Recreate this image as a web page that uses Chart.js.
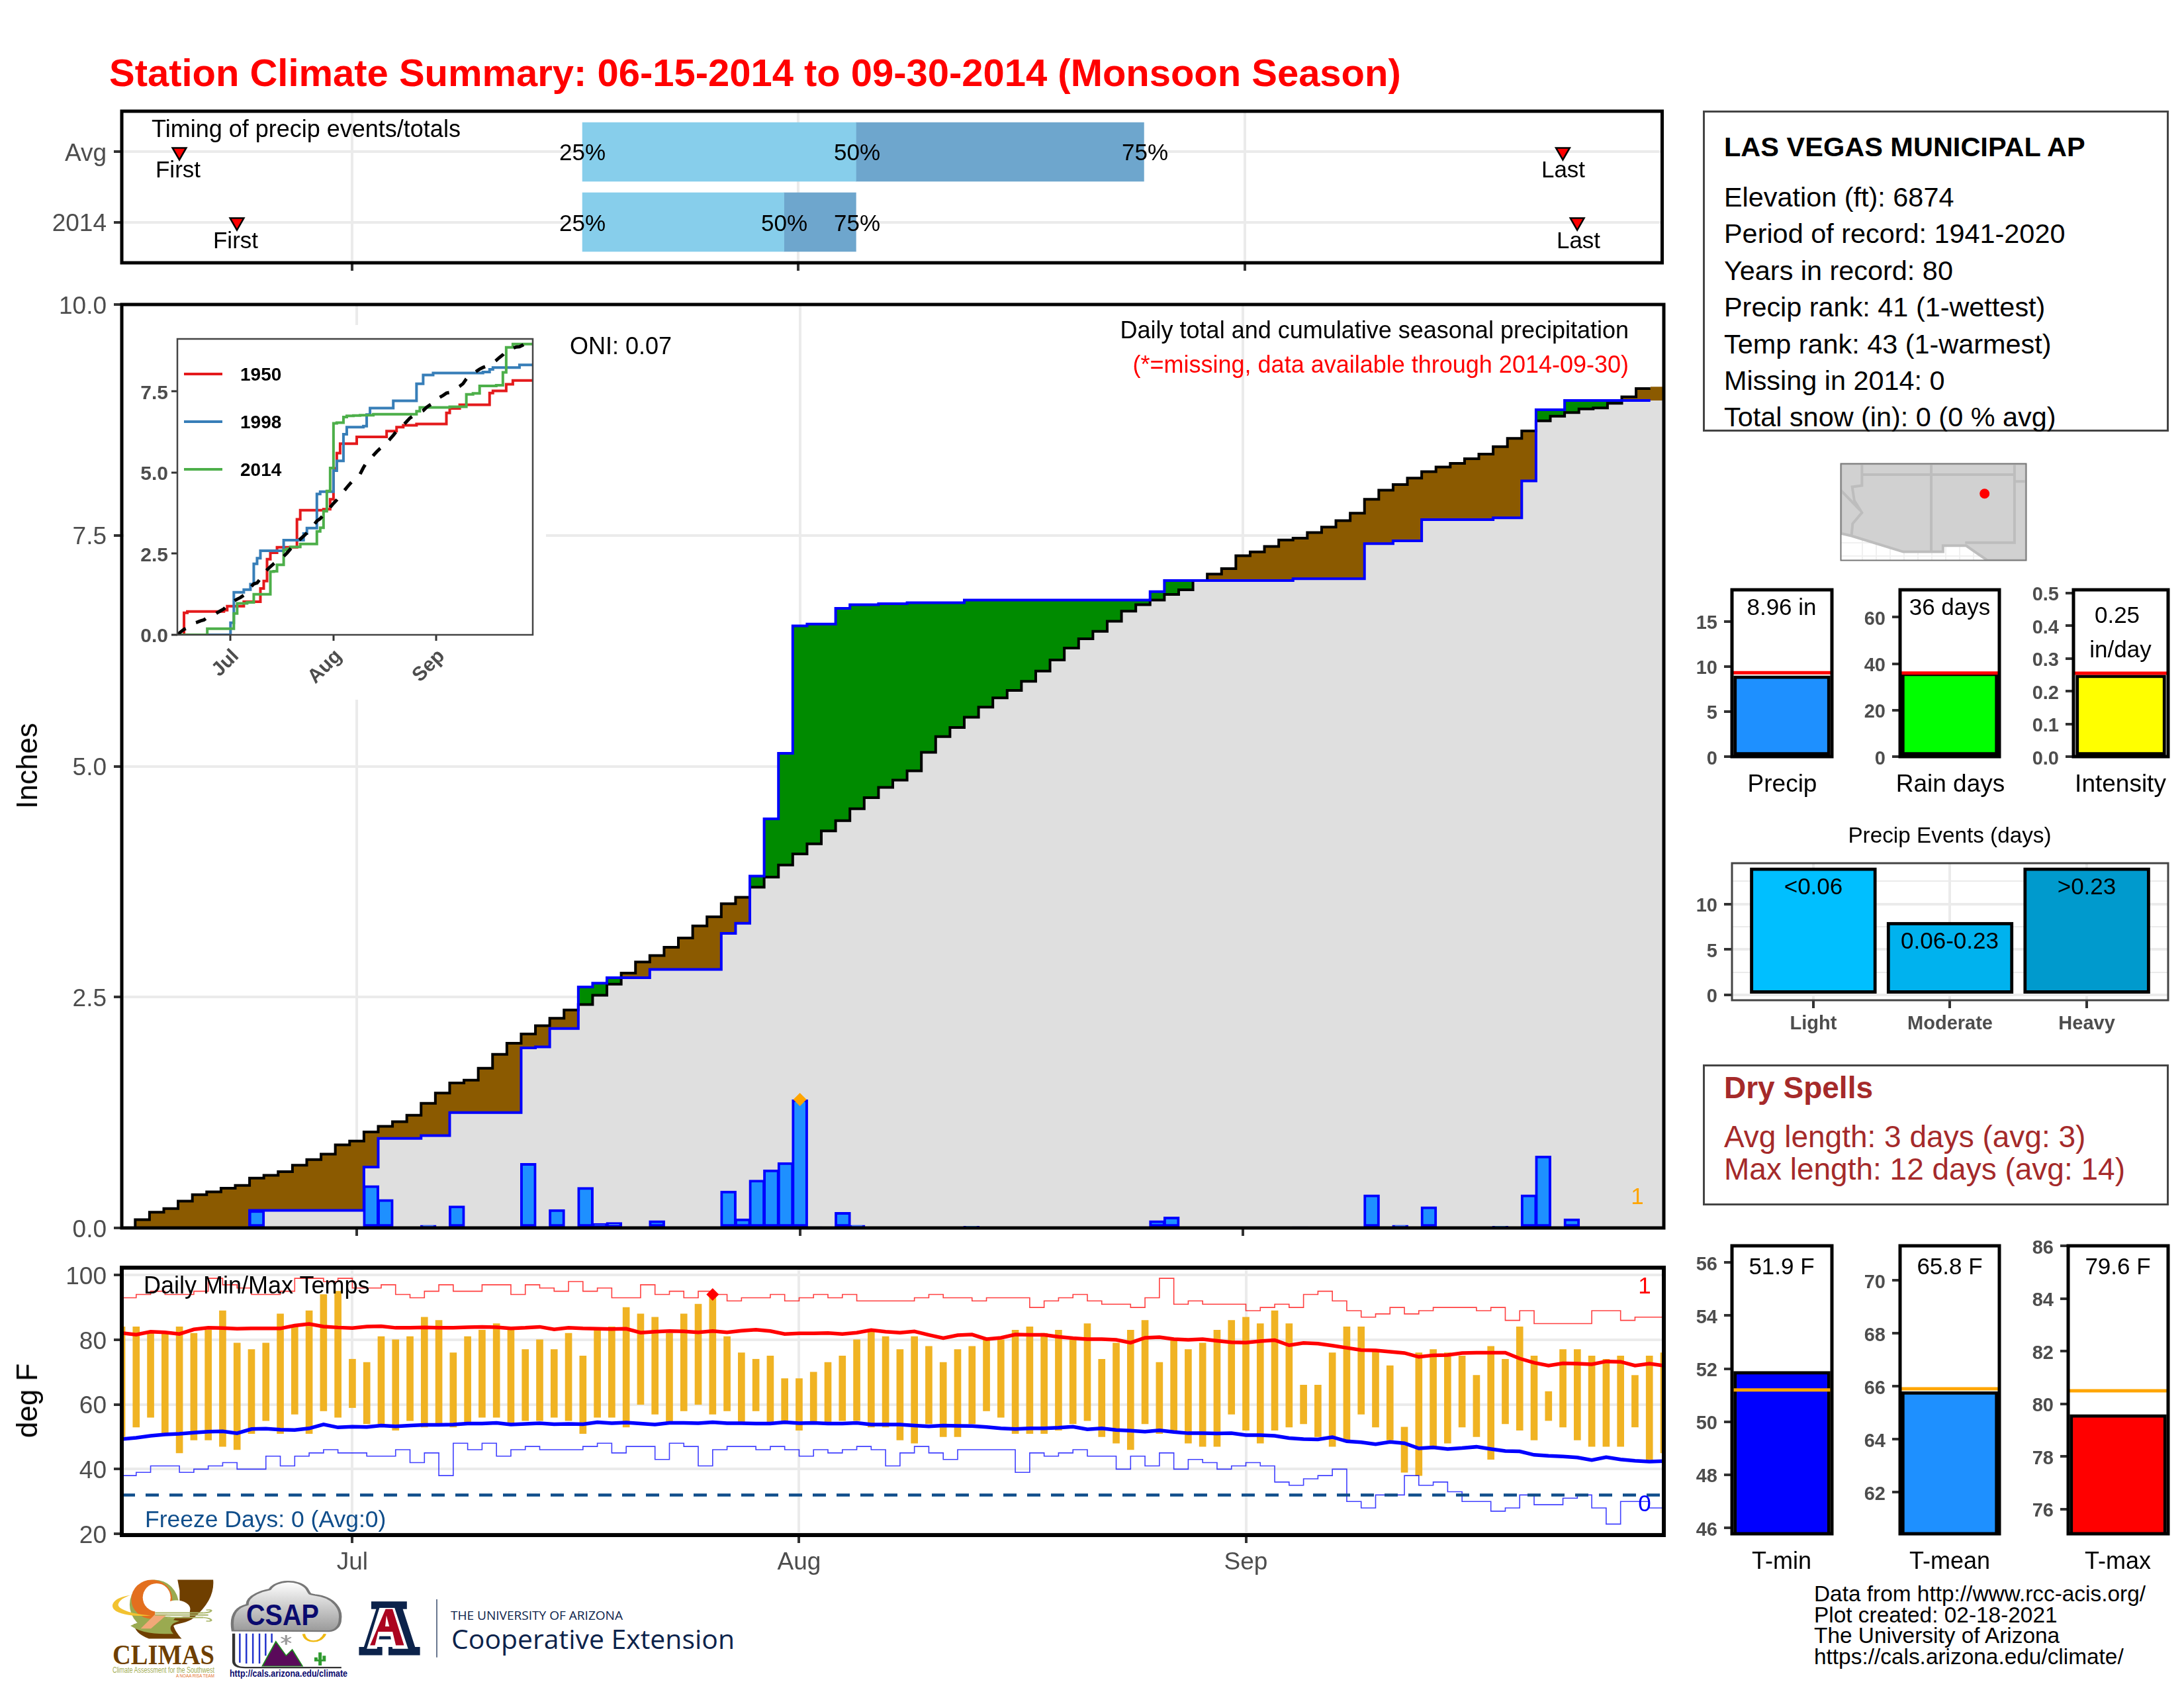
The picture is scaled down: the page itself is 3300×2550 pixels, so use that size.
<!DOCTYPE html>
<html><head><meta charset="utf-8">
<style>html,body{margin:0;padding:0;background:#fff}#page{position:relative;width:3300px;height:2550px;overflow:hidden;background:#fff;font-family:"Liberation Sans",Arial,sans-serif}canvas{position:absolute}.t{position:absolute;white-space:nowrap;line-height:1}.box{position:absolute;box-sizing:border-box;border:3px solid #444}</style>
<script src="https://cdn.jsdelivr.net/npm/chart.js@4"></script>
</head><body><div id="page">
<svg style="position:absolute;left:0;top:0" width="3300" height="2550" viewBox="0 0 3300 2550">
<defs><linearGradient id="cg" x1="0" y1="0" x2="0" y2="1"><stop offset="0" stop-color="#fff"/><stop offset="1" stop-color="#9a9a9a"/></linearGradient></defs>
<g transform="translate(160 2370) scale(0.6188 0.3279)">
<path d="M175 50L262 50C265 110 250 170 215 225C200 250 175 250 165 262C170 290 180 310 185 322L105 322C80 305 70 280 68 255L160 230L180 200L180 100Z" fill="#6f3f00"/>
<ellipse cx="118" cy="165" rx="60" ry="115" fill="#9aaa50"/>
<path d="M60 262C90 300 130 300 165 300C150 270 160 250 180 240L110 220Z" fill="#9aaa50"/>
<ellipse cx="112" cy="140" rx="50" ry="90" fill="#e36f1e"/><ellipse cx="124" cy="132" rx="34" ry="65" fill="#fff"/>
<ellipse cx="172" cy="185" rx="34" ry="40" fill="#fff"/><rect x="120" y="190" width="85" height="30" fill="#fff"/>
<path d="M60 122C20 130 5 170 25 195C45 215 80 220 110 215C70 210 30 190 30 165C32 145 45 130 60 122Z" fill="#f2c230"/>
<path d="M85 275L120 210L150 210L110 275Z" fill="#f2a878"/>
<path d="M120 203H238M120 213H250M150 224H238" stroke="#a9b568" stroke-width="6" fill="none"/>
<path d="M238 203C262 200 262 185 245 190M238 224C262 228 262 245 245 240" stroke="#a9b568" stroke-width="5" fill="none"/>
<path d="M310 285C305 230 310 180 345 165C345 120 385 100 400 95C415 50 470 45 490 90C500 120 495 115 510 120C560 130 575 190 572 230C572 265 560 285 545 287Z" fill="url(#cg)" stroke="#777" stroke-width="7"/>
<path d="M327 298V432M343 298V436M359 298V436M375 298V436M390 298V400M405 298V340" stroke="#2233cc" stroke-width="4"/>
<path d="M312 298V425Q312 455 340 455H575" stroke="#333" stroke-width="7" fill="none"/>
<path d="M382 448L415 335L440 400L455 372L480 448Z" fill="#5a0a5a" stroke="#1b8a1b" stroke-width="3"/>
<path d="M440 305V350M428 315L452 340M428 340L452 315" stroke="#999" stroke-width="5"/>
<path d="M483 300C487 345 525 345 535 300" stroke="#efb810" stroke-width="7" fill="none"/>
<path d="M523 385V445M513 408V422H533V400" stroke="#2f9a2f" stroke-width="8" fill="none"/>
<path d="M648 150H735V185H725L755 360H767V398H690V360H705L700 325H665L660 360H675V398H618V360H630L660 185H648Z" fill="#0c234b"/>
<path d="M678 180H705L738 368H700L695 310H668L662 368H637L668 180Z" fill="#fff"/>
<path d="M683 185H700L728 352H708L700 290H665L657 352H645ZM682 265H692L685 215Z" fill="#ab0520"/>
<path d="M808 140V408" stroke="#0c234b" stroke-width="2"/>
</g>
<text x="170" y="2514" font-family="Liberation Serif" font-weight="bold" font-size="42" fill="#6f3f00" textLength="154" lengthAdjust="spacingAndGlyphs">CLIMAS</text>
<text x="170" y="2527" font-family="Liberation Sans" font-size="12" fill="#a2ae55" textLength="154" lengthAdjust="spacingAndGlyphs">Climate Assessment for the Southwest</text>
<text x="266" y="2534" font-family="Liberation Sans" font-size="7" fill="#e36f1e" textLength="58" lengthAdjust="spacingAndGlyphs">A NOAA RISA TEAM</text>
<text x="372" y="2455" font-family="Liberation Sans" font-weight="bold" font-size="44" fill="#0a0a6e" textLength="110" lengthAdjust="spacingAndGlyphs">CSAP</text>
<text x="347" y="2533" font-family="Liberation Sans" font-weight="bold" font-size="14" fill="#0a0a6e" textLength="178" lengthAdjust="spacingAndGlyphs">http://cals.arizona.edu/climate</text>
<text x="681" y="2447" font-family="Open Sans" font-size="18" fill="#0c234b" textLength="260" lengthAdjust="spacingAndGlyphs">THE UNIVERSITY OF ARIZONA</text>
<text x="682" y="2491" font-family="Open Sans" font-size="41" fill="#0c234b" textLength="428" lengthAdjust="spacingAndGlyphs">Cooperative Extension</text>
</svg>
</div>
<script>
/* ---------- data ---------- */
const monthTicks=[16,47,78], monthLabels=['Jul','Aug','Sep'];
const timingRows=[2,1], timingRowLabels=['Avg','2014'];
const pct25=[32,32], pct50=[51,46], pct75=[71,51];
const firstEvent=[4,8], lastEvent=[100.1,101.1];
const dailyPrecip=[0,0,0,0,0,0,0,0,0,.19,
0,0,0,0,0,0,0,.46,.31,0,
0,.03,0,.24,0,0,0,0,.70,.01,
.20,0,.44,.05,.06,0,0,.08,0,0,
0,0,.40,.10,.52,.63,.71,1.39,.01,0,
.17,.03,0,0,0,0,0,0,0,.02,
0,0,0,0,0,0,0,0,0,0,
0,0,.08,.12,0,0,0,0,0,0,
0,0,.01,0,0,0,0,.36,0,.03,
0,.23,0,0,0,0,.02,0,.36,.78,
0,.10,0,0,0,0,0,0];
const obsCum=[0,0,0,0,0,0,0,0,0,.19,
.19,.19,.19,.19,.19,.19,.19,.66,.97,.97,
.97,1.00,1.00,1.25,1.25,1.25,1.25,1.25,1.95,1.96,
2.16,2.16,2.61,2.65,2.71,2.71,2.71,2.80,2.80,2.80,
2.80,2.80,3.19,3.30,3.81,4.43,5.14,6.52,6.54,6.54,
6.71,6.75,6.75,6.76,6.76,6.77,6.77,6.77,6.77,6.80,
6.80,6.80,6.80,6.80,6.80,6.80,6.80,6.80,6.80,6.80,
6.80,6.80,6.89,7.01,7.01,7.01,7.01,7.01,7.01,7.01,
7.01,7.01,7.03,7.03,7.03,7.03,7.03,7.41,7.41,7.44,
7.44,7.67,7.67,7.67,7.67,7.67,7.69,7.69,8.09,8.86,
8.86,8.96,8.96,8.96,8.96,8.96,8.96,8.96];
const avgCum=[0,.09,.17,.21,.29,.36,.39,.43,.46,.54,
.57,.61,.68,.74,.80,.90,.94,1.04,1.10,1.15,
1.22,1.35,1.46,1.57,1.60,1.73,1.88,2.00,2.10,2.19,
2.27,2.36,2.42,2.52,2.64,2.76,2.88,2.95,3.04,3.14,
3.27,3.37,3.51,3.58,3.69,3.80,3.93,4.05,4.16,4.30,
4.41,4.54,4.66,4.77,4.85,4.95,5.15,5.32,5.42,5.53,
5.64,5.74,5.82,5.92,6.03,6.15,6.28,6.38,6.46,6.57,
6.68,6.75,6.80,6.86,6.91,7.01,7.08,7.14,7.28,7.32,
7.38,7.45,7.47,7.53,7.59,7.66,7.74,7.89,7.99,8.05,
8.12,8.19,8.24,8.28,8.33,8.38,8.46,8.55,8.63,8.74,
8.79,8.83,8.87,8.88,8.93,9.00,9.09,9.11];
const y1950Days=[2,3,14,15,20,25,26,27,28,30,36,37,44,46,47,48,49,54,63,66,68,72,81,82,85,94,95,99,101];
const y1950Vals=[.68,.72,.76,.88,1.02,1.43,1.66,2.33,2.53,2.70,3.56,3.84,3.87,4.18,5.13,5.60,5.89,6.10,6.28,6.40,6.46,6.50,6.84,6.98,7.09,7.45,7.52,7.72,7.84];
const y1998Days=[16,17,20,22,23,24,25,32,38,39,42,43,47,48,50,51,56,57,58,65,72,74,77,92,94,95,103];
const y1998Vals=[.37,1.31,1.39,1.56,2.19,2.36,2.59,2.92,3.12,3.29,4.34,4.41,5.06,5.36,6.18,6.40,6.43,6.79,6.99,7.21,7.74,8.01,8.07,8.10,8.18,8.24,8.32];
const tMax=[84,84,82,82,84,82,83,89,79,77,
79,88,84,89,94,95,74,73,81,80,
81,87,86,76,81,83,85,84,77,80,
77,82,75,83,84,90,88,87,82,88,
91,94,81,76,74,75,68,68,70,73,
75,80,83,81,77,81,78,73,77,78,
80,80,83,84,82,83,80,85,74,79,
83,86,73,80,77,79,83,86,87,85,
89,85,66,66,76,84,84,77,72,53,
76,77,76,75,69,78,74,84,75,64,
77,77,75,74,75,69,75,76];
const tMin=[50,53,56,51,45,49,49,47,46,51,
55,51,57,51,58,56,59,54,54,52,
55,53,54,53,54,56,56,54,55,55,
56,55,51,56,56,53,60,57,54,58,
60,57,58,54,58,54,54,52,54,54,
55,55,53,53,49,48,54,50,50,54,
58,56,51,51,51,52,54,55,50,48,
46,54,51,52,48,47,47,57,52,48,
52,53,54,50,47,49,57,53,49,39,
38,47,48,53,50,43,54,52,49,55,
53,49,47,47,47,53,43,45];
const recMax=[93,94,95,94,94,95,99,97,96,94,
94,95,99,99,98,99,96,96,97,94,
93,95,97,95,95,97,97,94,97,96,
95,98,95,96,93,93,97,94,95,93,
95,94,92,93,93,94,92,93,94,93,
94,92,92,92,92,93,94,93,93,92,
93,93,93,90,92,93,94,92,91,91,
90,93,99,91,92,91,91,91,89,90,
91,90,94,95,92,89,87,88,90,88,
89,90,90,90,89,90,86,89,85,85,
85,85,89,89,86,87,87,87];
const recMin=[38,39,41,41,39,40,41,42,40,40,
44,41,44,45,46,45,45,44,44,46,
42,45,38,48,46,48,44,46,47,46,
46,46,47,48,45,47,47,43,48,47,
41,46,47,47,46,47,46,44,46,45,
46,47,46,41,45,47,45,43,46,46,
46,46,39,45,44,45,46,44,44,40,
44,41,45,40,43,42,40,41,42,41,
36,35,37,38,40,30,28,32,32,38,
35,36,33,30,30,27,28,32,29,29,
31,32,28,23,30,30,28,28];
const normMax=[82.1,81.6,82.5,82.3,81.8,83.2,83.7,83.6,83.4,83.5,
83.5,83.5,84.4,84.9,84.1,83.8,83.6,84.1,84.2,83.7,
83.7,83.8,83.7,83.7,83.9,84.0,83.9,83.5,83.7,84.0,
83.2,83.7,83.5,83.4,83.3,83.4,82.2,82.5,82.7,82.6,
82.3,82.7,82.3,82.8,83.1,82.7,81.8,82.0,82.0,82.1,
81.8,82.2,83.0,82.5,82.2,82.6,81.5,80.5,81.4,81.6,
80.2,80.6,81.6,81.5,81.5,80.9,80.5,80.2,80.2,80.0,
79.1,80.6,80.8,80.2,80.0,80.2,79.7,79.2,79.1,79.6,
79.9,78.3,79.0,78.8,78.2,77.5,76.8,76.7,76.3,75.9,
74.7,75.2,75.3,75.9,76.0,76.0,76.0,74.2,72.9,72.0,
72.7,72.6,72.4,73.3,73.2,72.0,72.6,72.0];
const normMin=[49.3,49.7,50.3,50.7,50.9,51.3,51.6,51.7,51.1,52.4,
52.5,52.2,52.1,52.6,53.8,52.9,53.1,53.0,53.5,53.2,
53.5,53.7,53.7,53.8,54.1,54.1,54.3,53.8,54.0,54.2,
53.9,54.0,53.9,54.5,54.2,54.4,54.1,53.8,54.3,54.3,
54.2,54.5,54.2,54.2,54.1,54.1,54.5,54.2,54.3,54.1,
54.1,54.3,53.8,53.8,53.8,53.5,53.2,53.5,53.4,53.3,
53.0,52.6,52.4,52.6,52.6,52.8,53.1,52.3,52.6,52.1,
51.9,51.6,52.0,51.5,51.1,51.1,51.0,51.1,50.5,50.5,
50.3,49.6,49.3,49.2,49.9,48.6,48.3,47.7,48.4,48.0,
46.4,46.7,46.2,46.5,46.9,46.2,45.6,45.5,44.4,44.1,
43.9,43.6,42.8,43.7,43.0,42.6,42.3,42.5];
const peakPrecipDay=[47], peakPrecipVal=[1.39];
const peakTempDay=[41], peakTempVal=[94];
const freezeLine=[32];
const eventCats=['Light','Moderate','Heavy'], eventVals=[14,8,14], eventTags=['<0.06','0.06-0.23','>0.23'];
const eventColors=['#00bfff','#00b2ee','#009acd'];
const mapLon=[-115.57,-102.2,-102.2,-105,-106,-106.53,-108.2,-108.2,-109.05,-111.07,-114.8,-115.57];
const mapLat=[37.8,37.8,30.7,30.7,31.4,31.78,31.78,31.33,31.33,31.33,32.5,32.68];
const mapLines=[[[-109.05,37.8],[-109.05,31.33]],[[-114.05,37],[-103.04,37]],[[-114.05,37.8],[-114.05,36.2],[-114.75,36.1],[-114.6,35.1],[-114.05,34.2],[-114.72,33.4],[-114.8,32.5]],[[-115.57,35.85],[-114.2,34.4]],[[-103.04,37.8],[-103.04,32],[-106.6,32]],[[-103.04,36.5],[-102.2,36.5]]];
const stationLon=[-105.2], stationLat=[35.6];

[tMax,tMin,recMax,recMin,normMax,normMin,dailyPrecip,obsCum,avgCum].forEach(a=>{if(a.length!==108)throw new Error('len '+a.length)});

/* ---------- helpers ---------- */
Chart.defaults.font.family='"Liberation Sans"';
Chart.defaults.animation=false;
const page=document.getElementById('page');
const days=avgCum.map((_,i)=>i);
Chart.register({id:'frame',afterDraw(c,a,o){if(!o.w)return;const r=c.chartArea,x=c.ctx;x.save();x.strokeStyle=o.color||'#000';x.lineWidth=o.w;x.strokeRect(r.left,r.top,r.right-r.left,r.bottom-r.top);x.restore();}});
Chart.register({id:'paper',beforeDraw(c,a,o){if(!o.on)return;c.ctx.save();c.ctx.fillStyle='#fff';c.ctx.fillRect(0,0,c.width,c.height);c.ctx.restore();}});
/* nudge tick labels the way the reference's text sits relative to its ticks */
Chart.register({id:'labelNudge',beforeDraw(c){Object.values(c.scales).forEach(s=>{if(!s.options.display||!s.options.ticks.display)return;
 const dx=s.options.labelDx||0,dy=s.options.labelDy||0;if(!dx&&!dy)return;
 s.getLabelItems(c.chartArea).forEach(it=>{it.options.translation[0]+=dx;it.options.translation[1]+=dy;});});}});
function axis(o){return{type:'linear',min:o.min,max:o.max,offset:false,beginAtZero:false,display:true,
 labelDx:o.dx||0,labelDy:o.dy===undefined?(o.isX?0:3.5):o.dy,
 afterBuildTicks(s){s.ticks=o.vals.map(value=>({value}))},
 afterFit(s){s.paddingLeft=s.paddingRight=s.paddingTop=s.paddingBottom=0;if(o.isX)s.height=o.size;else s.width=o.size;},
 grid:{display:true,offset:false,drawOnChartArea:o.grid!==false,color:o.gridColor||'#ebebeb',lineWidth:o.gridW||4,drawTicks:true,tickLength:o.tickLen===undefined?12:o.tickLen,tickWidth:o.tickW||4,tickColor:o.tickColor||'#333'},
 border:{display:false},
 ticks:{autoSkip:false,display:o.label!==undefined,maxRotation:o.rot||0,minRotation:o.rot||0,padding:o.pad===undefined?8:o.pad,color:'#4d4d4d',font:{size:o.fs||37,weight:o.fw||'normal'},callback:v=>o.label?o.label(v):''}};}
function mk(box,o){const L=o.L||0,T=o.T===undefined?30:o.T,R=o.R===undefined?12:o.R,B=o.B||0;
 const c=document.createElement('canvas');c.width=box.x1-box.x0+L+R;c.height=box.y1-box.y0+T+B;
 c.style.left=(box.x0-L)+'px';c.style.top=(box.y0-T)+'px';c.style.width=c.width+'px';c.style.height=c.height+'px';page.appendChild(c);
 return new Chart(c.getContext('2d'),{type:'line',data:{datasets:o.datasets},options:{responsive:false,animation:false,devicePixelRatio:1,
  layout:{padding:{left:o.hideY?L:0,top:T,right:R,bottom:o.hideX?B:0}},scales:o.scales,
  plugins:{legend:{display:false},tooltip:{enabled:false},frame:o.frame||{},paper:{on:!!o.paper}},...(o.extra||{})},plugins:o.plugins||[]});}
function text(s,x,y,size,o={}){const d=document.createElement('div');d.className='t';d.textContent=s;
 const a=o.align==='right'?'-100%':o.align==='center'?'-50%':'0';
 d.style.cssText=`left:${x}px;top:${y}px;font-size:${size}px;color:${o.color||'#000'};font-weight:${o.bold?'bold':'normal'};transform:translate(${a},-50%)${o.rot?` rotate(${o.rot}deg)`:''};`;
 page.appendChild(d);return d;}
function box(x0,y0,x1,y1){const d=document.createElement('div');d.className='box';d.style.cssText=`left:${x0}px;top:${y0}px;width:${x1-x0}px;height:${y1-y0}px`;page.appendChild(d);}
const zip=(xs,ys)=>xs.map((x,i)=>({x,y:ys[i]}));
const monthAxis=(min,max,size,label)=>axis({isX:true,min,max,vals:monthTicks,size,label});

/* ---------- timing panel ---------- */
const TM=107;
mk({x0:184,x1:2514,y0:168,y1:397},{L:160,B:20,frame:{w:5},
 scales:{x:monthAxis(0,TM,20),y:axis({min:.42,max:2.58,vals:timingRows,size:160,pad:11,label:v=>timingRowLabels[timingRows.indexOf(v)]})},
 datasets:[
  {type:'bar',indexAxis:'y',data:timingRows.map((r,i)=>({x:[pct25[i],pct50[i]],y:r})),backgroundColor:'#87ceeb',barThickness:89,borderWidth:0,order:3},
  {type:'bar',indexAxis:'y',data:timingRows.map((r,i)=>({x:[pct50[i],pct75[i]],y:r})),backgroundColor:'#6ea6cd',barThickness:89,borderWidth:0,grouped:false,order:3},
  {type:'scatter',data:zip(firstEvent,timingRows),pointStyle:'triangle',rotation:180,pointRadius:12,backgroundColor:'#f00',borderColor:'#000',borderWidth:2.5,order:1},
  {type:'scatter',data:zip(lastEvent,timingRows),pointStyle:'triangle',rotation:180,pointRadius:12,backgroundColor:'#f00',borderColor:'#000',borderWidth:2.5,order:1}
 ]});

/* ---------- main precipitation panel ---------- */
const MX0=-0.44,MX1=107.44;
const fillPts=a=>[{x:MX0,y:a[0]},...zip(days,a),{x:MX1,y:a[a.length-1]}];
const linePts=a=>[...zip(days.slice(0,107),a.slice(0,107)),{x:106.5,y:a[106]}];
const lowCum=obsCum.map((v,i)=>Math.min(v,avgCum[i]));
const fillDs=(a,color,order)=>({data:fillPts(a),stepped:'middle',fill:'origin',backgroundColor:color,borderWidth:0,pointRadius:0,order});
mk({x0:184,x1:2514,y0:460,y1:1855},{L:160,B:20,frame:{w:5},
 scales:{x:monthAxis(MX0,MX1,20),y:axis({min:0,max:10,vals:[0,2.5,5,7.5,10],size:160,pad:11,label:v=>v.toFixed(1)})},
 datasets:[
  fillDs(obsCum,'#008b00',10),fillDs(avgCum,'#8b5a00',9),fillDs(lowCum,'#dfdfdf',8),
  {type:'bar',data:days.filter(i=>dailyPrecip[i]>0).map(i=>({x:i,y:dailyPrecip[i]})),backgroundColor:'#1e90ff',borderColor:'#0000ff',borderWidth:4,borderSkipped:false,barThickness:24,order:5},
  {data:linePts(avgCum),stepped:'middle',borderColor:'#000',borderWidth:4,pointRadius:0,fill:false,order:3},
  {data:linePts(obsCum),stepped:'middle',borderColor:'#0000ff',borderWidth:4,pointRadius:0,fill:false,order:2},
  {type:'scatter',data:zip(peakPrecipDay,peakPrecipVal),pointStyle:'rectRot',pointRadius:10,backgroundColor:'#ffa500',borderWidth:0,order:1}
 ]});

/* ---------- inset ---------- */
const stepSeries=(d,v)=>[{x:0,y:0},...zip(d,v),{x:TM,y:v[v.length-1]}];
const insetKey={id:'insetKey',afterDatasetsDraw(c){const x=c.ctx,r=c.chartArea;x.save();x.lineWidth=4;[['#e41a1c',53],['#377eb8',125],['#4daf4a',197]].forEach(([col,dy])=>{x.strokeStyle=col;x.beginPath();x.moveTo(r.left+10,r.top+dy);x.lineTo(r.left+68,r.top+dy);x.stroke();});x.restore();}};
mk({x0:268,x1:805,y0:512,y1:959},{L:80,T:21,R:20,B:98,paper:true,frame:{w:2.5,color:'#444'},plugins:[insetKey],
 scales:{x:axis({isX:true,min:0,max:TM,vals:monthTicks,size:98,tickLen:9,tickW:3,grid:false,rot:45,fs:30,fw:'bold',pad:4,dx:8,dy:2,label:v=>monthLabels[monthTicks.indexOf(v)]}),
  y:axis({min:0,max:9.12,vals:[0,2.5,5,7.5],size:80,tickLen:9,tickW:3,grid:false,fs:30,fw:'bold',pad:5,dy:3,label:v=>v.toFixed(1)})},
 datasets:[
  {data:stepSeries(y1950Days,y1950Vals),stepped:true,borderColor:'#e41a1c',borderWidth:4,pointRadius:0,fill:false,order:4},
  {data:stepSeries(y1998Days,y1998Vals),stepped:true,borderColor:'#377eb8',borderWidth:4,pointRadius:0,fill:false,order:3},
  {data:zip(days,obsCum),stepped:true,borderColor:'#4daf4a',borderWidth:4,pointRadius:0,fill:false,order:2},
  {data:zip(days,avgCum),borderColor:'#000',borderWidth:5,borderDash:[16,18],pointRadius:0,fill:false,order:1}
 ]});

/* ---------- temperature panel ---------- */
const flat=(v,a,b)=>[{x:a,y:v},{x:b,y:v}];
mk({x0:184,x1:2514,y0:1915,y1:2319},{L:160,B:70,frame:{w:6},
 scales:{x:monthAxis(0,TM,70,v=>monthLabels[monthTicks.indexOf(v)]),y:axis({min:19.6,max:102.3,vals:[20,40,60,80,100],size:160,pad:11,label:v=>String(v)})},
 datasets:[
  {type:'bar',data:days.map(i=>({x:i,y:[tMin[i],tMax[i]]})),backgroundColor:'#f0b323',borderWidth:0,barThickness:10,order:8},
  {data:zip(days,recMax),stepped:true,borderColor:'rgba(255,0,0,.75)',borderWidth:1.6,pointRadius:0,fill:false,order:6},
  {data:zip(days,recMin),stepped:true,borderColor:'rgba(0,0,255,.75)',borderWidth:1.6,pointRadius:0,fill:false,order:6},
  {data:flat(freezeLine[0],0,TM),borderColor:'#104e8b',borderWidth:4.5,borderDash:[20,16],pointRadius:0,fill:false,order:5},
  {data:zip(days,normMax),borderColor:'#f00',borderWidth:5.5,pointRadius:0,fill:false,order:3},
  {data:zip(days,normMin),borderColor:'#00f',borderWidth:5.5,pointRadius:0,fill:false,order:3},
  {type:'scatter',data:zip(peakTempDay,peakTempVal),pointStyle:'rectRot',pointRadius:9.5,backgroundColor:'#f00',borderWidth:0,order:1}
 ]});

/* ---------- map ---------- */
const mapPlugin={id:'mapPoly',beforeDatasetsDraw(c){const X=c.scales.x,Y=c.scales.y,x=c.ctx;x.save();x.beginPath();x.rect(c.chartArea.left,c.chartArea.top,c.chartArea.width,c.chartArea.height);x.clip();
 x.fillStyle='#d1d1d1';x.beginPath();mapLon.forEach((lo,i)=>{const px=X.getPixelForValue(lo),py=Y.getPixelForValue(mapLat[i]);i?x.lineTo(px,py):x.moveTo(px,py)});x.closePath();x.fill();
 x.strokeStyle='#bdbdbd';x.lineWidth=4;x.stroke();
 mapLines.forEach(l=>{x.beginPath();l.forEach((p,i)=>{const px=X.getPixelForValue(p[0]),py=Y.getPixelForValue(p[1]);i?x.lineTo(px,py):x.moveTo(px,py)});x.stroke();});x.restore();}};
mk({x0:2778,x1:3065,y0:697,y1:850},{T:4,R:4,B:4,L:4,frame:{w:2,color:'#777'},plugins:[mapPlugin],
 scales:{x:axis({isX:true,min:-115.57,max:-102.2,vals:[-114,-113,-112,-111,-110,-109,-108,-107,-106,-105,-104,-103],size:4,tickLen:0,gridW:2,gridColor:'#f0f0f0',tickW:1,tickColor:'transparent'}),
  y:axis({min:30.7,max:37.8,vals:[31,32,33],size:4,tickLen:0,gridW:2,gridColor:'#f0f0f0',tickW:1,tickColor:'transparent'})},
 datasets:[{type:'scatter',data:zip(stationLon,stationLat),pointRadius:7.5,backgroundColor:'#f00',borderWidth:0}]});

/* ---------- summary bars ---------- */
function summary(b,yMin,yMax,ticks,fmt,val,ref,color,refColor,barW){
 return mk(b,{L:120,B:24,hideX:true,frame:{w:5},
  scales:{x:{type:'linear',min:0,max:1,display:false,offset:false,grid:{offset:false}},y:axis({min:yMin,max:yMax,vals:ticks,size:120,grid:false,pad:10,fs:29,fw:'bold',label:fmt})},
  datasets:[{type:'bar',data:[{x:.5,y:val}],backgroundColor:color,borderColor:'#000',borderWidth:5,borderSkipped:false,barThickness:barW,order:2},
   {data:flat(ref,0,1),borderColor:refColor,borderWidth:5,pointRadius:0,fill:false,order:1}]});}
const precipTotal=8.96,precipAvg=9.3,rainDays=36,rainAvg=36,intensity=.25,intensityAvg=.255;
const tMinMean=51.9,tMinAvg=51.2,tMeanMean=65.8,tMeanAvg=65.9,tMaxMean=79.6,tMaxAvg=80.5;
const R1={y0:891,y1:1143},R2={y0:1882,y1:2317};
summary({x0:2617,x1:2768,...R1},0,18.5,[0,5,10,15],String,precipTotal,precipAvg,'#1e90ff','#f00',146);
summary({x0:2871,x1:3021,...R1},0,71.8,[0,20,40,60],String,rainDays,rainAvg,'#00ff00','#f00',146);
summary({x0:3133,x1:3276,...R1},0,.51,[0,.1,.2,.3,.4,.5],v=>v.toFixed(1),intensity,intensityAvg,'#ffff00','#f00',136);
summary({x0:2617,x1:2768,...R2},45.78,56.63,[46,48,50,52,54,56],String,tMinMean,tMinAvg,'#0000ff','#ffa500',146);
summary({x0:2871,x1:3021,...R2},60.43,71.3,[62,64,66,68,70],String,tMeanMean,tMeanAvg,'#1e90ff','#ffa500',146);
summary({x0:3125,x1:3276,...R2},75.07,86,[76,78,80,82,84,86],String,tMaxMean,tMaxAvg,'#ff0000','#ffa500',146);

/* ---------- precip events ---------- */
mk({x0:2617,x1:3276,y0:1304,y1:1511},{L:120,B:60,frame:{w:3,color:'#444'},
 scales:{x:axis({isX:true,min:.405,max:3.595,vals:[1,2,3],size:60,fs:29,fw:'bold',pad:7,label:v=>eventCats[v-1]}),
  y:(()=>{const a=axis({min:-.6,max:14.5,vals:[0,2.5,5,7.5,10,12.5],size:120,pad:10,fs:29,fw:'bold',label:v=>v%5?'':String(v)});
    a.grid.lineWidth=c=>c.tick&&c.tick.value%5?2:4;a.grid.tickColor=c=>c.tick&&c.tick.value%5?'transparent':'#333';return a;})()},
 datasets:[{type:'bar',data:eventVals.map((v,i)=>({x:i+1,y:v})),backgroundColor:eventColors,borderColor:'#000',borderWidth:5,borderSkipped:false,barThickness:191}]});

/* ---------- text ---------- */
const tt=text('Station Climate Summary: 06-15-2014 to 09-30-2014 (Monsoon Season)',165,111,100,{bold:true,color:'#f00'});
const mw=tt.getBoundingClientRect().width;tt.style.fontSize=(100*1952/mw)+'px';
text('Timing of precip events/totals',229,195,36);
[['First',269,255],['First',356,362],['Last',2362,255],['Last',2385,362]].forEach(a=>text(a[0],a[1],a[2],35,{align:'center'}));
[['25%',880,229],['50%',1295,229],['75%',1730,229],['25%',880,336],['50%',1185,336],['75%',1295,336]].forEach(a=>text(a[0],a[1],a[2],35,{align:'center'}));
text('ONI: 0.07',861,523,36);
text('Daily total and cumulative seasonal precipitation',2461,499,36,{align:'right'});
text('(*=missing, data available through 2014-09-30)',2461,551,36,{align:'right',color:'#f00'});
text('1',2474,1806,35,{align:'center',color:'#ffa500'});
text('Inches',41,1157,44,{align:'center',rot:-90});
text('deg F',41,2116,44,{align:'center',rot:-90});
text('Daily Min/Max Temps',217,1942,36);
text('Freeze Days: 0 (Avg:0)',219,2296,35.5,{color:'#104e8b'});
text('1',2485,1941,35,{align:'center',color:'#f00'});
text('0',2485,2270,35,{align:'center',color:'#00f'});
[['1950',566],['1998',638],['2014',710]].forEach(a=>text(a[0],363,a[1],28,{bold:true}));

box(2573,167,3277,652);
text('LAS VEGAS MUNICIPAL AP',2605,222,41.5,{bold:true});
['Elevation (ft): 6874','Period of record: 1941-2020','Years in record: 80','Precip rank: 41 (1-wettest)','Temp rank: 43 (1-warmest)','Missing in 2014: 0','Total snow (in): 0 (0 % avg)'].forEach((s,i)=>text(s,2605,299+i*55.4,41.4));

text('8.96 in',2692,916,35,{align:'center'});
text('36 days',2946,916,35,{align:'center'});
text('0.25',3199,928,35,{align:'center'});
text('in/day',3204,980,35,{align:'center'});
[['Precip',2693],['Rain days',2947],['Intensity',3204]].forEach(a=>text(a[0],a[1],1183,37,{align:'center'}));
text('Precip Events (days)',2946,1262,33.3,{align:'center'});
[[2740,1338],[2946,1420],[3153,1338]].forEach((a,i)=>text(eventTags[i],a[0],a[1],35,{align:'center'}));
box(2573,1608,3277,1821);
text('Dry Spells',2605,1643,46,{bold:true,color:'#a52a2a'});
text('Avg length: 3 days (avg: 3)',2605,1717,46,{color:'#a52a2a'});
text('Max length: 12 days (avg: 14)',2605,1766,46,{color:'#a52a2a'});
[['51.9 F',2692],['65.8 F',2946],['79.6 F',3200]].forEach(a=>text(a[0],a[1],1912,35,{align:'center'}));
[['T-min',2692],['T-mean',2946],['T-max',3200]].forEach(a=>text(a[0],a[1],2358,36,{align:'center'}));
['Data from http://www.rcc-acis.org/','Plot created: 02-18-2021','The University of Arizona','https://cals.arizona.edu/climate/'].forEach((s,i)=>text(s,2741,2408+i*31.7,33.4));
</script></body></html>
